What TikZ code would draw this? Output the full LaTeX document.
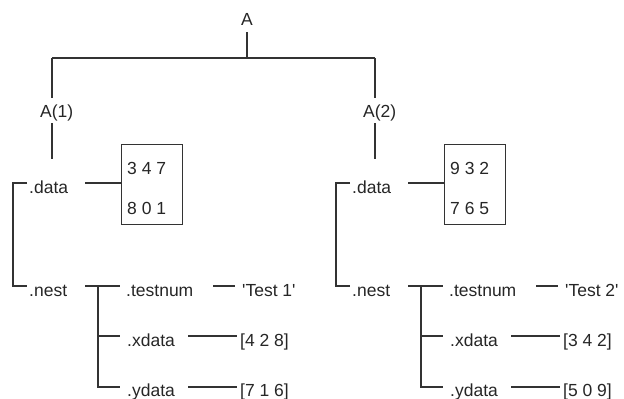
\documentclass[tikz,border=0pt]{standalone}
\usepackage{fontspec}
\setmainfont{Liberation Sans}
\tikzset{
  txt/.style={inner sep=0pt, font=\fontsize{17.5}{20}\selectfont, text=black!85, anchor=base west},
  ln/.style={line width=1.1pt, draw=black!80},
  boxnode/.style={draw=black!80, line width=1.1pt, inner sep=0pt, minimum width=61pt, minimum height=80pt, anchor=north west},
}
\newcommand\halftree[8]{%
\begin{scope}[xshift=#8]
  \node[txt] (a#1) at (40,117) {#2};
  \coordinate (t#1) at (52,58);
  \coordinate (e#1) at (52,159);
  \node[boxnode] (b#1) at (121,144) {};
  \node[txt] (r#1) at (127,174) {#3};
  \node[txt] (s#1) at (127,214) {#4};
  \node[txt] (d#1) at (29,193) {.data};
  \node[txt] (n#1) at (29,296) {.nest};
  \node[txt] (tn#1) at (126,296) {.testnum};
  \node[txt] (tv#1) at (242,296) {#5};
  \node[txt] (x#1) at (127,346) {.xdata};
  \node[txt] (xv#1) at (240,346) {#6};
  \node[txt] (y#1) at (127,396) {.ydata};
  \node[txt] (yv#1) at (240,396) {#7};
  \coordinate (bt#1) at (27,183);
  \coordinate (bc#1) at (13,183);
  \coordinate (bd#1) at (13,286);
  \coordinate (bb#1) at (27,286);
  \coordinate (dl#1) at (85,183);
  \coordinate (nl#1) at (85,286);
  \coordinate (nr#1) at (120,286);
  \coordinate (v#1) at (98,286);
  \coordinate (vm#1) at (98,336);
  \coordinate (vb#1) at (98,387);
  \coordinate (xr#1) at (120,336);
  \coordinate (yr#1) at (120,387);
  \coordinate (tl#1) at (213,286);
  \coordinate (tr#1) at (235,286);
  \coordinate (xl#1) at (188,336);
  \coordinate (xe#1) at (237,336);
  \coordinate (yl#1) at (188,387);
  \coordinate (ye#1) at (237,387);
  \draw[ln,shorten >=6pt] (t#1) -- (t#1 |- a#1.north);
  \draw[ln,shorten <=2.5pt] (t#1 |- a#1.south) -- (e#1);
  \draw[ln] (bt#1) -- (bc#1) -- (bd#1) -- (bb#1);
  \draw[ln] (dl#1) -- (dl#1 -| b#1.west);
  \draw[ln] (nl#1) -- (nr#1);
  \draw[ln] (v#1) -- (vb#1) -- (yr#1);
  \draw[ln] (vm#1) -- (xr#1);
  \draw[ln] (tl#1) -- (tr#1);
  \draw[ln] (xl#1) -- (xe#1);
  \draw[ln] (yl#1) -- (ye#1);
\end{scope}}
\begin{document}
\begin{tikzpicture}[x=1pt,y=-1pt]
  \useasboundingbox (0,0) rectangle (624,399);
  \node[txt, anchor=base] (A) at (247,25) {A};
  \coordinate (Aj) at (247,58);
  \halftree{1}{A(1)}{3 4 7}{8 0 1}{\textquotesingle Test 1\textquotesingle}{[4 2 8]}{[7 1 6]}{0pt}
  \halftree{2}{A(2)}{9 3 2}{7 6 5}{\textquotesingle Test 2\textquotesingle}{[3 4 2]}{[5 0 9]}{323pt}
  \draw[ln] ([yshift=-7pt]A.south) -- (Aj);
  \draw[ln] (t1) -- (t2);
\end{tikzpicture}
\end{document}
